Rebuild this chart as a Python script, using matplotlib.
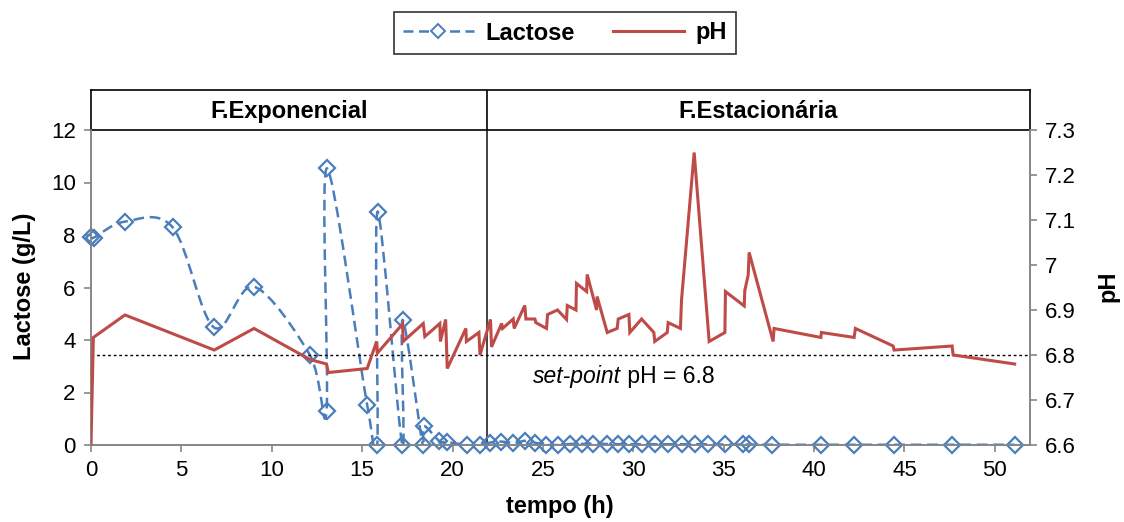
import numpy as np
import matplotlib
matplotlib.use("Agg")
import matplotlib.pyplot as plt
from matplotlib.path import Path
from matplotlib.patches import PathPatch
from matplotlib.lines import Line2D
from matplotlib.ticker import FuncFormatter

plt.rcParams['font.family'] = ['Liberation Sans', 'DejaVu Sans']

# ---------------- data ----------------
lac_t = [0.0, 0.15, 1.88, 4.52, 6.80, 9.02, 12.11, 13.03, 13.05, 15.28, 15.84, 15.86,
         17.22, 17.24, 18.35, 18.42, 19.27, 19.67, 20.78, 21.52, 22.07, 22.71, 23.36,
         24.0, 24.56, 25.2, 25.85, 26.5, 27.14, 27.8, 28.52, 29.17, 29.77, 30.46,
         31.19, 31.93, 32.67, 33.4, 34.14, 35.07, 36.08, 36.41, 37.7, 40.36, 42.22,
         44.41, 47.64, 51.1]
lac_v = [7.94, 7.9, 8.51, 8.29, 4.48, 6.03, 3.43, 1.31, 10.54, 1.52, 0.0, 8.89,
         0.0, 4.76, 0.0, 0.72, 0.15, 0.12, 0.0, 0.0, 0.09, 0.13, 0.06,
         0.16, 0.09, 0.0, 0.0, 0.04, 0.04, 0.05, 0.04, 0.03, 0.03, 0.03,
         0.03, 0.03, 0.03, 0.03, 0.03, 0.02, 0.02, 0.02, 0.01, 0.01, 0.01,
         0.01, 0.01, 0.01]

ph_t = [0.0, 0.13, 1.88, 6.82, 9.02, 12.11, 13.03, 13.13, 15.28, 15.80, 15.84,
        17.24, 17.27, 18.38, 18.47, 19.30, 19.33, 19.62, 19.71, 20.74, 20.77,
        21.46, 21.52, 22.10, 22.16, 22.72, 22.77, 23.36, 23.41, 24.0, 24.06,
        24.56, 24.61, 25.20, 25.26, 25.81, 26.31, 26.35, 26.83, 26.86, 27.42,
        27.45, 27.97, 28.0, 28.56, 29.11, 29.17, 29.76, 29.81, 30.46, 31.14,
        31.19, 31.88, 31.93, 32.61, 32.67, 33.37, 34.20, 35.07, 35.10, 36.14,
        36.17, 36.36, 36.41, 37.74, 37.79, 40.38, 40.41, 42.22, 42.29, 44.38,
        44.43, 47.64, 47.70, 51.10]
ph_v = [6.60, 6.839, 6.889, 6.811, 6.859, 6.790, 6.780, 6.761, 6.770, 6.830, 6.804,
        6.869, 6.830, 6.870, 6.841, 6.870, 6.830, 6.879, 6.770, 6.859, 6.830,
        6.850, 6.800, 6.879, 6.818, 6.870, 6.859, 6.880, 6.859, 6.910, 6.880,
        6.880, 6.872, 6.859, 6.890, 6.900, 6.879, 6.910, 6.900, 6.959, 6.941,
        6.979, 6.900, 6.930, 6.850, 6.859, 6.880, 6.890, 6.850, 6.880, 6.850,
        6.830, 6.850, 6.872, 6.859, 6.922, 7.250, 6.830, 6.850, 6.941, 6.909,
        6.943, 6.978, 7.028, 6.830, 6.859, 6.839, 6.850, 6.839, 6.859, 6.820,
        6.811, 6.820, 6.800, 6.780]

setpoint = 6.8
phase_split = 21.9
phase_labels = ["F.Exponencial", "F.Estacionária"]
x_ticks = [0, 5, 10, 15, 20, 25, 30, 35, 40, 45, 50]
lac_ticks = [0, 2, 4, 6, 8, 10, 12]
ph_ticks = [6.6, 6.7, 6.8, 6.9, 7.0, 7.1, 7.2, 7.3]

BLUE = '#4A7EBB'
RED = '#BE4B48'
GRAY = '#868686'
XMAX = 51.95


def smooth_path(x, y):
    n = len(x)
    verts = [(x[0], y[0])]
    codes = [Path.MOVETO]
    for i in range(n - 1):
        a = i - 1 if i > 0 else i
        d = i + 2 if i + 2 < n else i + 1
        c1 = (x[i] + (x[i + 1] - x[a]) / 6.0, y[i] + (y[i + 1] - y[a]) / 6.0)
        c2 = (x[i + 1] - (x[d] - x[i]) / 6.0, y[i + 1] - (y[d] - y[i]) / 6.0)
        verts += [c1, c2, (x[i + 1], y[i + 1])]
        codes += [Path.CURVE4] * 3
    return Path(verts, codes)


W, H = 1124, 522
fig = plt.figure(figsize=(W / 100, H / 100), dpi=100)

L, R, B, T, HT = 91, 1030, 445, 130, 90
ax = fig.add_axes([L / W, 1 - B / H, (R - L) / W, (B - T) / H])
axh = fig.add_axes([L / W, 1 - T / H, (R - L) / W, (T - HT) / H])

# main axis (lactose)
ax.set_xlim(0, XMAX)
ax.set_ylim(0, 12)
ax.set_xticks(x_ticks)
ax.set_yticks(lac_ticks)
for s in ['left', 'bottom', 'right']:
    ax.spines[s].set_color(GRAY)
    ax.spines[s].set_linewidth(1.2)
ax.spines['top'].set_visible(False)
ax.tick_params(axis='both', direction='out', length=5, width=1.2, color=GRAY,
               labelsize=16, labelcolor='black', pad=6)

lac_path = smooth_path(lac_t, lac_v)
ax.add_patch(PathPatch(lac_path, fill=False, edgecolor=BLUE, lw=1.8,
                       linestyle=(0, (4.3, 2.3)), zorder=3))
ax.plot(lac_t, lac_v, ls='none', marker='D', ms=7.8, mfc='none', mec=BLUE,
        mew=1.6, zorder=4, clip_on=False)
ax.axvline(phase_split, color='#222222', lw=1.2, zorder=2)

# secondary axis (pH)
ax2 = ax.twinx()
ax2.set_ylim(6.6, 7.3)
ax2.set_yticks(ph_ticks)
ax2.yaxis.set_major_formatter(FuncFormatter(lambda v, p: f"{round(v, 1):g}"))
for s in ['left', 'bottom', 'right']:
    ax2.spines[s].set_color(GRAY)
    ax2.spines[s].set_linewidth(1.2)
ax2.spines['top'].set_visible(False)
ax2.tick_params(axis='y', direction='out', length=5, width=1.2, color=GRAY,
                labelsize=16, labelcolor='black', pad=6)
ax2.plot(ph_t, ph_v, color=RED, lw=2.2, zorder=3, solid_joinstyle='miter')
ax2.axhline(setpoint, color='black', lw=1.0, ls=(0, (2, 2)), zorder=2)
t1 = ax2.text(24.45, 6.752, "set-point", style='italic', fontsize=16.5,
              ha='left', va='center')
ax2.annotate(" pH = 6.8", xy=(1, 0), xycoords=t1, fontsize=16.5,
             ha='left', va='bottom')

# header band
axh.set_xlim(0, XMAX)
axh.set_ylim(0, 1)
axh.set_xticks([])
axh.set_yticks([])
for s in axh.spines.values():
    s.set_color('black')
    s.set_linewidth(1.2)
axh.axvline(phase_split, color='black', lw=1.2)
axh.text(phase_split / 2, 0.46, phase_labels[0], ha='center', va='center',
         fontsize=17, fontweight='bold')
axh.text((phase_split + XMAX) / 2, 0.46, phase_labels[1], ha='center',
         va='center', fontsize=17, fontweight='bold')

# axis labels
fig.text(25 / W, 1 - 286 / H, "Lactose (g/L)", rotation=90, ha='center',
         va='center', fontsize=17, fontweight='bold')
fig.text(1108 / W, 1 - 286 / H, "pH", rotation=90, ha='center', va='center',
         fontsize=17, fontweight='bold')
fig.text(560 / W, 1 - 506 / H, "tempo (h)", ha='center', va='center',
         fontsize=17, fontweight='bold')

# legend
handles = [Line2D([], [], color=BLUE, lw=1.8, ls=(0, (4.0, 2.2)), marker='D',
                  ms=7, mfc='white', mec=BLUE, mew=1.4),
           Line2D([], [], color=RED, lw=2.2)]
leg = fig.legend(handles, ["Lactose", "pH"], loc='center',
                 bbox_to_anchor=(565 / W, 1 - 33 / H), ncol=2, frameon=True,
                 fancybox=False, edgecolor='black', handlelength=3.0,
                 columnspacing=1.6, handletextpad=0.5, borderpad=0.4,
                 borderaxespad=0, prop={'weight': 'bold', 'size': 17})
leg.get_frame().set_linewidth(1.2)

fig.savefig("out.png", dpi=100)
